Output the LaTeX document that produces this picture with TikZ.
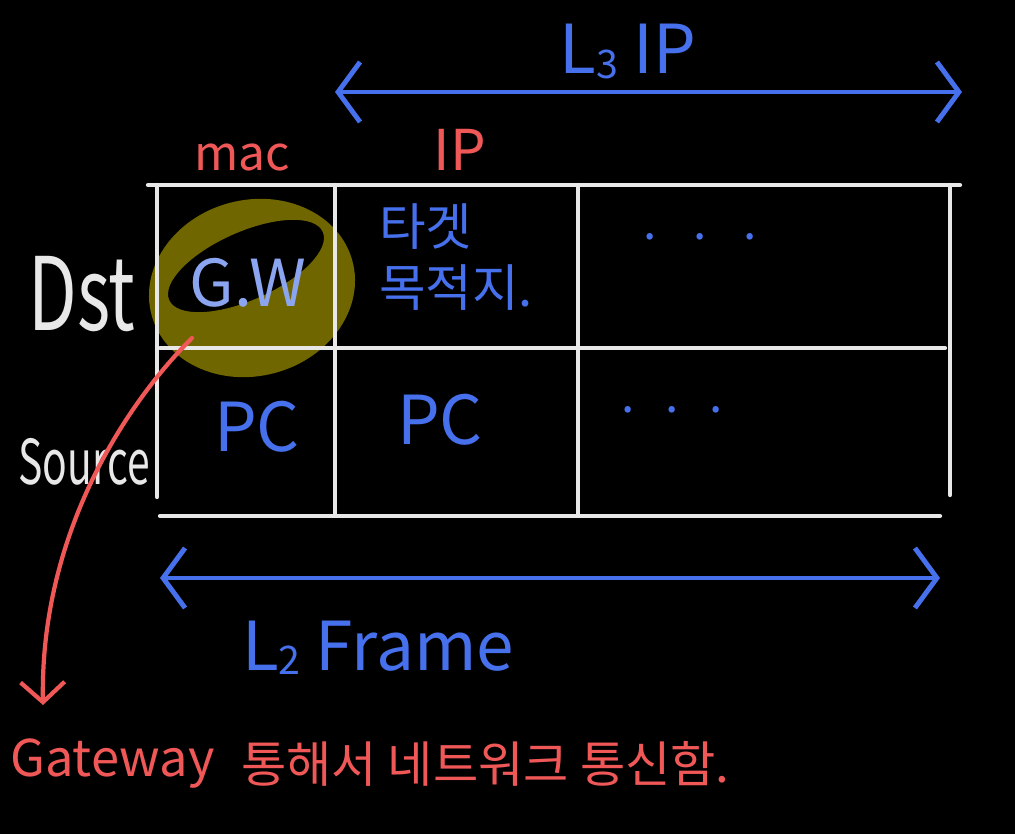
\documentclass[tikz,border=0pt]{standalone}
\usepackage{fontspec}
\setmainfont{Noto Sans CJK KR}
\usetikzlibrary{arrows.meta, positioning}
\definecolor{penblue}{RGB}{70,112,236}
\definecolor{lightpen}{RGB}{140,165,240}
\definecolor{penred}{RGB}{240,88,88}
\definecolor{penwhite}{RGB}{232,232,232}
\definecolor{marker}{RGB}{112,102,0}
\newcommand{\layer}[1]{\raisebox{-3pt}{\fontsize{28}{28}\selectfont #1}}

\begin{document}
\begin{tikzpicture}[x=0.025cm, y=-0.025cm,
  grid/.style={penwhite, line width=3pt, line cap=round},
  span/.style={penblue, line width=3.5pt, line cap=round,
    {Straight Barb[length=0.55cm, width=1.5cm]}-{Straight Barb[length=0.55cm, width=1.5cm]}},
  hand/.style={inner sep=0pt},
  big/.style={font=\fontsize{48}{52}\selectfont},
  mid/.style={font=\fontsize{34}{42}\selectfont}]

  \fill[black] (0,0) rectangle (1015,834);

  % marker ring round the gateway cell
  \fill[marker, even odd rule]
    (252,288) ellipse [x radius=104, y radius=88, rotate=15]
    (246,266) ellipse [x radius=84, y radius=34, rotate=24];

  % frame table
  \draw[grid] (148,185) -- (960,185);
  \draw[grid] (160,348) -- (945,348);
  \draw[grid] (160,516) -- (940,516);
  \draw[grid] (157,185) -- (157,497);
  \draw[grid] (335,185) -- (335,515);
  \draw[grid] (578,185) -- (578,515);
  \draw[grid] (950,185) -- (950,495);

  \node[hand, big, penblue, anchor=base] (l3) at (628,74) {L\layer{3} IP};
  \coordinate (l3left) at (335,92);
  \coordinate (l3right) at (962,92);
  \draw[span] (l3left) -- (l3right);

  \node[hand, mid, penred] (mac) at (242,157) {mac};
  \node[hand, penred, font=\fontsize{40}{44}\selectfont] (ip) at (460,150) {IP};

  \node[hand, penwhite, font=\fontsize{72}{76}\selectfont] (dst) at (82,294) {\scalebox{0.7}[1]{Dst}};
  \node[hand, penwhite, font=\fontsize{44}{48}\selectfont] (src) at (84,462) {\scalebox{0.66}[1]{Source}};

  \node[hand, lightpen, font=\fontsize{46}{50}\selectfont] (gw) at (248,283) {G.W};
  \node[hand, penblue, align=left, font=\fontsize{36}{43}\selectfont] (target) at (456,257) {타겟\\목적지.};
  \node[hand, mid, penblue, anchor=base] (dots1) at (700,240) {.\hspace{26pt}.\hspace{26pt}.};

  \node[hand, big, penblue] (pc1) at (257,427) {PC};
  \node[hand, big, penblue] (pc2) at (440,420) {PC};
  \node[hand, mid, penblue, anchor=base] (dots2) at (672,412) {.\hspace{22pt}.\hspace{22pt}.};

  \coordinate (l2left) at (160,578);
  \coordinate (l2right) at (940,578);
  \draw[span] (l2left) -- (l2right);
  \node[hand, big, penblue, anchor=base] (l2) at (378,670) {L\layer{2} Frame};

  \node[hand, penred, font=\fontsize{36}{40}\selectfont, anchor=west] (gateway) at (10,764) {Gateway};
  \node[hand, penred, font=\fontsize{35}{40}\selectfont, right=26 of gateway] (note) {통해서 네트워크 통신함.};

  \coordinate (gwtail) at (192,338);
  \coordinate (gwtip) at (43,705);
  \draw[penred, line width=3pt, line cap=round, -{Straight Barb[length=0.5cm, width=1.1cm]}]
    (gwtail) .. controls (120,410) and (40,540) .. (gwtip);
\end{tikzpicture}
\end{document}
